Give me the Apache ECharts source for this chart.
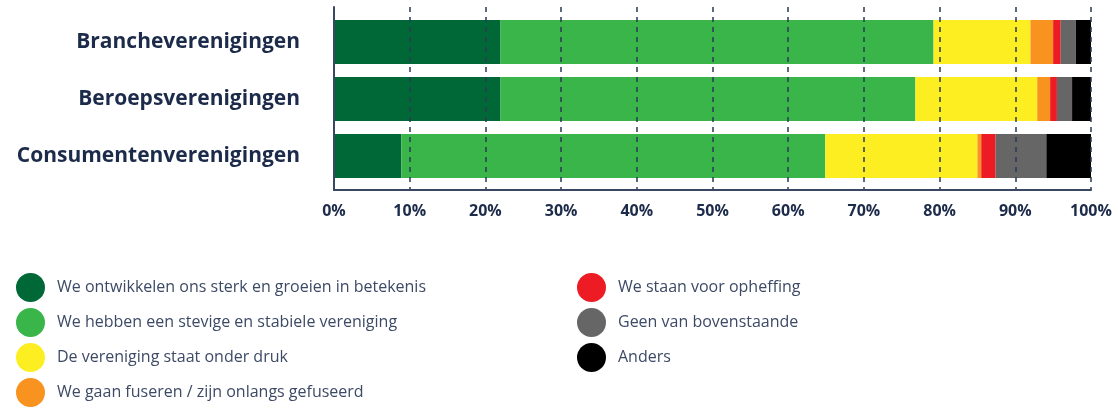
<!DOCTYPE html>
<html>
<head>
<meta charset="utf-8">
<script src="https://cdn.jsdelivr.net/npm/echarts@6/dist/echarts.min.js"></script>
<style>
  html, body { margin: 0; padding: 0; background: #fff; }
  #chart { width: 1118px; height: 409px; }
</style>
</head>
<body>
<div id="chart"></div>
<script>
var categories = ['Brancheverenigingen', 'Beroepsverenigingen', 'Consumentenverenigingen'];
var seriesNames = [
  'We ontwikkelen ons sterk en groeien in betekenis',
  'We hebben een stevige en stabiele vereniging',
  'De vereniging staat onder druk',
  'We gaan fuseren / zijn onlangs gefuseerd',
  'We staan voor opheffing',
  'Geen van bovenstaande',
  'Anders'
];
var sterk     = [22, 22, 8.9];
var stabiel   = [57.2, 54.8, 56];
var druk      = [12.8, 16.1, 20.1];
var fuseren   = [3, 1.7, 0.5];
var opheffing = [1, 0.9, 1.9];
var geen      = [2, 2, 6.7];
var anders    = [2, 2.5, 5.9];
var colors = ['#006837', '#39b54a', '#fcee21', '#f7931e', '#ed1c24', '#666666', '#000000'];

var values = [sterk, stabiel, druk, fuseren, opheffing, geen, anders];
var navy = '#1c2b4a';
// labels sit a little above the bar centre in the original
var labelLift = [0, 4, 16];

var myChart = echarts.init(document.getElementById('chart'));

var series = seriesNames.map(function (name, i) {
  return {
    name: name,
    type: 'bar',
    stack: 'total',
    xAxisIndex: 0,
    yAxisIndex: 0,
    barWidth: 44,
    data: values[i],
    itemStyle: { color: colors[i] }
  };
});

var legendText = {
  color: '#3d4a66', fontSize: 16, fontFamily: 'Open Sans', padding: [0, 0, 0, 7]
};

var option = {
  backgroundColor: '#ffffff',
  animation: false,
  color: colors,
  grid: [
    { left: 334, right: 27, top: 13.5, bottom: 224.5 },
    { left: 334, right: 27, top: 7, bottom: 219 }
  ],
  xAxis: [
    { gridIndex: 0, type: 'value', min: 0, max: 100, show: false },
    {
      gridIndex: 1, type: 'value', min: 0, max: 100, interval: 10, z: 10,
      axisLine: { show: true, lineStyle: { color: '#3a4763', width: 2 } },
      axisTick: { show: false },
      axisLabel: {
        formatter: '{value}%', margin: 13,
        color: navy, fontSize: 16, fontWeight: 'bold', fontFamily: 'Open Sans'
      },
      splitLine: { show: true, lineStyle: { type: [5, 5], color: '#2b3a55', width: 1.5 } }
    }
  ],
  yAxis: [
    {
      gridIndex: 0, type: 'category', inverse: true,
      data: categories.map(function (c, i) {
        return { value: c, textStyle: { padding: [0, 0, labelLift[i], 0] } };
      }),
      axisLine: { show: false }, axisTick: { show: false },
      axisLabel: { margin: 34, color: navy, fontSize: 21, fontWeight: 'bold', fontFamily: 'Open Sans' }
    },
    {
      gridIndex: 1, type: 'value', min: 0, max: 1, z: 10,
      axisLine: { show: true, lineStyle: { color: '#3a4763', width: 2 } },
      axisTick: { show: false }, axisLabel: { show: false }, splitLine: { show: false }
    }
  ],
  legend: [
    {
      orient: 'vertical', left: 16, top: 273, padding: 0, icon: 'circle',
      itemWidth: 29, itemHeight: 29, itemGap: 6,
      data: seriesNames.slice(0, 4),
      textStyle: legendText
    },
    {
      orient: 'vertical', left: 577, top: 273, padding: 0, icon: 'circle',
      itemWidth: 29, itemHeight: 29, itemGap: 6,
      data: seriesNames.slice(4),
      textStyle: legendText
    }
  ],
  series: series
};

myChart.setOption(option);
</script>
</body>
</html>
